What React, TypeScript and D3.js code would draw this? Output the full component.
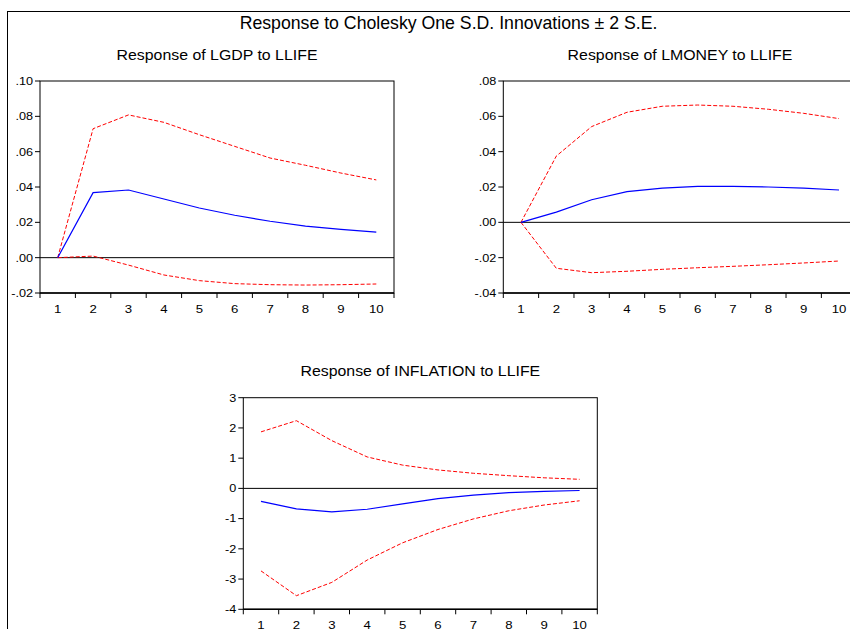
import React, { useEffect, useRef } from "react";
import * as d3 from "d3";

// periods 1..10
const periods = [1, 2, 3, 4, 5, 6, 7, 8, 9, 10];

// Response of LGDP to LLIFE
const lgdpResp = [0, 0.0368, 0.0383, 0.0332, 0.0281, 0.024, 0.0206, 0.0179, 0.016, 0.0145];
const lgdpUpper = [0, 0.073, 0.0808, 0.0766, 0.0696, 0.063, 0.0564, 0.0523, 0.0479, 0.044];
const lgdpLower = [0, 0.0009, -0.0042, -0.0098, -0.013, -0.0147, -0.0153, -0.0155, -0.0153, -0.0149];
const lgdpTicks = [-0.02, 0, 0.02, 0.04, 0.06, 0.08, 0.1];

// Response of LMONEY to LLIFE
const lmoneyResp = [0, 0.0058, 0.0128, 0.0174, 0.0194, 0.0204, 0.0204, 0.02, 0.0194, 0.0183];
const lmoneyUpper = [0, 0.0375, 0.0542, 0.0623, 0.0657, 0.0664, 0.0657, 0.064, 0.0617, 0.0587];
const lmoneyLower = [0, -0.026, -0.0285, -0.0277, -0.0266, -0.0257, -0.0249, -0.024, -0.023, -0.0219];
const lmoneyTicks = [-0.04, -0.02, 0, 0.02, 0.04, 0.06, 0.08];

// Response of INFLATION to LLIFE
const inflResp = [-0.43, -0.68, -0.78, -0.69, -0.51, -0.34, -0.22, -0.14, -0.1, -0.07];
const inflUpper = [1.87, 2.24, 1.58, 1.04, 0.77, 0.61, 0.5, 0.42, 0.35, 0.3];
const inflLower = [-2.73, -3.55, -3.11, -2.37, -1.8, -1.36, -1.01, -0.74, -0.55, -0.41];
const inflTicks = [-4, -3, -2, -1, 0, 1, 2, 3];

const W = 850;
const H = 629;
const FONT = "Arial, 'Liberation Sans', sans-serif";

// drop leading zero like EViews does: .10, -.02 (plain hyphen minus)
const decFmt = (v: number) => v.toFixed(2).replace(/^(-?)0\./, "$1.");
const intFmt = (v: number) => String(v);

// text with a slight horizontal stretch (the source render is wider than Liberation)
const label = (g: any, x: number, y: number, txt: string, size: number, anchor: string, sx: number, dy = "0") =>
  g.append("text")
    .attr("transform", `translate(${x},${y}) scale(${sx},1)`)
    .attr("text-anchor", anchor)
    .attr("dy", dy)
    .style("font", `${size}px ${FONT}`)
    .attr("fill", "#000")
    .text(txt);

const App = () => {
  const ref = useRef<SVGSVGElement>(null);

  useEffect(() => {
    const svg = d3.select(ref.current);
    svg.selectAll("*").remove();

    // outer frame (runs off the page on the right/bottom)
    svg.append("rect")
      .attr("x", 7.5).attr("y", 11.5)
      .attr("width", 900).attr("height", 700)
      .attr("fill", "none").attr("stroke", "#000").attr("stroke-width", 1);

    label(svg, 448.5, 29, "Response to Cholesky One S.D. Innovations \u00b1 2 S.E.", 17.7, "middle", 1);

    const panels = [
      { title: "Response of LGDP to LLIFE", resp: lgdpResp, upper: lgdpUpper, lower: lgdpLower,
        ticks: lgdpTicks, fmt: decFmt, left: 40, right: 394, top: 81, bottom: 293, titleY: 60, xlabY: 313 },
      { title: "Response of LMONEY to LLIFE", resp: lmoneyResp, upper: lmoneyUpper, lower: lmoneyLower,
        ticks: lmoneyTicks, fmt: decFmt, left: 503.3, right: 856.7, top: 81, bottom: 293, titleY: 60, xlabY: 313 },
      { title: "Response of INFLATION to LLIFE", resp: inflResp, upper: inflUpper, lower: inflLower,
        ticks: inflTicks, fmt: intFmt, left: 243.3, right: 597.3, top: 397.7, bottom: 609.3, titleY: 376, xlabY: 628.5 },
    ];

    panels.forEach(p => {
      const g = svg.append("g");
      const x = d3.scaleLinear().domain([0.5, 10.5]).range([p.left, p.right]);
      const y = d3.scaleLinear().domain(d3.extent(p.ticks) as [number, number]).range([p.bottom, p.top]);

      label(g, (p.left + p.right) / 2, p.titleY, p.title, 15, "middle", 1.06);

      // y axis ticks + labels
      p.ticks.forEach(t => {
        g.append("line")
          .attr("x1", p.left - 5).attr("x2", p.left)
          .attr("y1", y(t)).attr("y2", y(t))
          .attr("stroke", "#000");
        label(g, p.left - 7, y(t), p.fmt(t), 11, "end", 1.15, "0.35em");
      });

      // x axis: ticks at band edges, labels at period centers
      d3.range(0.5, 11, 1).forEach(b => {
        g.append("line")
          .attr("x1", x(b)).attr("x2", x(b))
          .attr("y1", p.bottom).attr("y2", p.bottom + 5)
          .attr("stroke", "#000");
      });
      periods.forEach(d => label(g, x(d), p.xlabY, String(d), 11, "middle", 1.2));

      // frame
      g.append("rect")
        .attr("x", p.left).attr("y", p.top)
        .attr("width", p.right - p.left).attr("height", p.bottom - p.top)
        .attr("fill", "none").attr("stroke", "#000").attr("stroke-width", 1);
      g.append("line")
        .attr("x1", p.left).attr("x2", p.right)
        .attr("y1", p.bottom).attr("y2", p.bottom)
        .attr("stroke", "#000").attr("stroke-width", 1.5);

      // zero line
      g.append("line")
        .attr("x1", p.left).attr("x2", p.right)
        .attr("y1", y(0)).attr("y2", y(0))
        .attr("stroke", "#000").attr("stroke-width", 1);

      const line = d3.line<number>()
        .x((d, i) => x(periods[i]))
        .y(d => y(d));

      g.append("path").attr("d", line(p.upper))
        .attr("fill", "none").attr("stroke", "#ff0000").attr("stroke-width", 1)
        .attr("stroke-dasharray", "4,2");
      g.append("path").attr("d", line(p.lower))
        .attr("fill", "none").attr("stroke", "#ff0000").attr("stroke-width", 1)
        .attr("stroke-dasharray", "4,2");
      g.append("path").attr("d", line(p.resp))
        .attr("fill", "none").attr("stroke", "#0000ff").attr("stroke-width", 1.2);
    });
  }, []);

  return (
    <svg ref={ref} width={W} height={H}
      style={{ position: "absolute", left: 0, top: 0, background: "#fff" }} />
  );
};

export default App;
